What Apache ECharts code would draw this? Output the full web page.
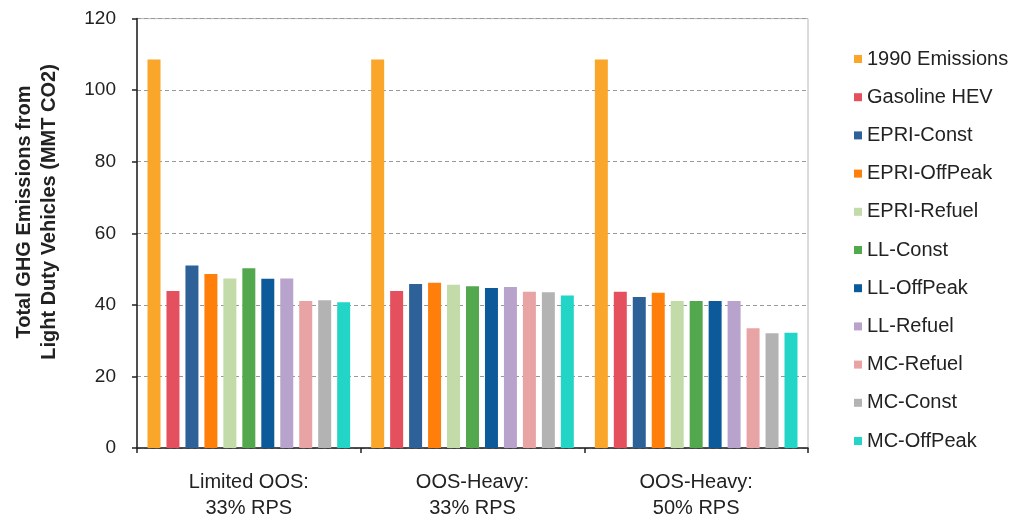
<!DOCTYPE html>
<html>
<head>
<meta charset="utf-8">
<title>Total GHG Emissions from Light Duty Vehicles</title>
<script src="https://cdn.jsdelivr.net/npm/echarts@6/dist/echarts.min.js"></script>
<style>
  html, body { margin: 0; padding: 0; background: #ffffff; }
  #chart { width: 1017px; height: 521px; }
</style>
</head>
<body>
<div id="chart"></div>
<script>
// Scenario groups along the x axis
const scenarios = ['Limited OOS:\n33% RPS', 'OOS-Heavy:\n33% RPS', 'OOS-Heavy:\n50% RPS'];

// Emissions per case (MMT CO2), one value per scenario
const emissions1990 = [108.6, 108.6, 108.6];
const gasolineHEV   = [43.9, 43.9, 43.7];
const epriConst     = [51.0, 45.8, 42.2];
const epriOffPeak   = [48.6, 46.2, 43.4];
const epriRefuel    = [47.4, 45.6, 41.1];
const llConst       = [50.2, 45.2, 41.1];
const llOffPeak     = [47.3, 44.7, 41.1];
const llRefuel      = [47.4, 45.0, 41.1];
const mcRefuel      = [41.1, 43.7, 33.5];
const mcConst       = [41.3, 43.5, 32.1];
const mcOffPeak     = [40.7, 42.6, 32.2];

const seriesNames = ['1990 Emissions', 'Gasoline HEV', 'EPRI-Const', 'EPRI-OffPeak', 'EPRI-Refuel',
  'LL-Const', 'LL-OffPeak', 'LL-Refuel', 'MC-Refuel', 'MC-Const', 'MC-OffPeak'];
const seriesValues = [emissions1990, gasolineHEV, epriConst, epriOffPeak, epriRefuel,
  llConst, llOffPeak, llRefuel, mcRefuel, mcConst, mcOffPeak];
const seriesColors = ['#F9A62B', '#E5505E', '#2D6198', '#FF7F0A', '#C2DBA8',
  '#53A84E', '#0D5A9A', '#B7A3CB', '#E8A3A5', '#B3B3B3', '#22D5C6'];

const yTicks = { min: 0, max: 120, interval: 20 };

const font = '"Liberation Sans", Arial, sans-serif';
const chart = echarts.init(document.getElementById('chart'), null, { renderer: 'canvas' });

chart.setOption({
  backgroundColor: '#ffffff',
  animation: false,
  color: seriesColors,
  grid: {
    left: 137, right: 209, top: 18.6, bottom: 71,
    show: true, borderColor: '#b8b8b8', borderWidth: 1
  },
  legend: {
    orient: 'vertical',
    left: 849,
    top: 44,
    itemWidth: 8,
    itemHeight: 8,
    itemGap: 18.2,
    icon: 'rect',
    textStyle: { fontFamily: font, fontSize: 20, color: '#222222', lineHeight: 20 },
    data: seriesNames
  },
  graphic: [{
    type: 'text',
    x: 36.5,
    y: 212,
    rotation: Math.PI / 2,
    style: {
      text: 'Total GHG Emissions from\nLight Duty Vehicles (MMT CO2)',
      fontFamily: font,
      fontSize: 20,
      fontWeight: 'bold',
      lineHeight: 25,
      fill: '#222222',
      align: 'center',
      verticalAlign: 'middle'
    }
  }],
  xAxis: {
    type: 'category',
    data: scenarios,
    axisLine: { lineStyle: { color: '#222222', width: 1.5 } },
    axisTick: { show: true, length: 5, lineStyle: { color: '#222222', width: 1.5 } },
    axisLabel: {
      margin: 21,
      fontFamily: font,
      fontSize: 20,
      lineHeight: 26,
      color: '#222222',
      align: 'center'
    }
  },
  yAxis: {
    type: 'value',
    min: yTicks.min,
    max: yTicks.max,
    interval: yTicks.interval,
    axisLine: { show: true, lineStyle: { color: '#222222', width: 1.5 } },
    axisTick: { show: true, length: 5, lineStyle: { color: '#222222', width: 1.5 } },
    axisLabel: { margin: 21, fontFamily: font, fontSize: 19, color: '#222222' },
    splitLine: { show: true, lineStyle: { color: '#999999', width: 1, type: [4, 3] } }
  },
  series: seriesNames.map((name, i) => ({
    name: name,
    type: 'bar',
    data: seriesValues[i],
    barGap: '46%',
    barCategoryGap: '9.4%',
    itemStyle: { color: seriesColors[i] }
  }))
});
</script>
</body>
</html>
